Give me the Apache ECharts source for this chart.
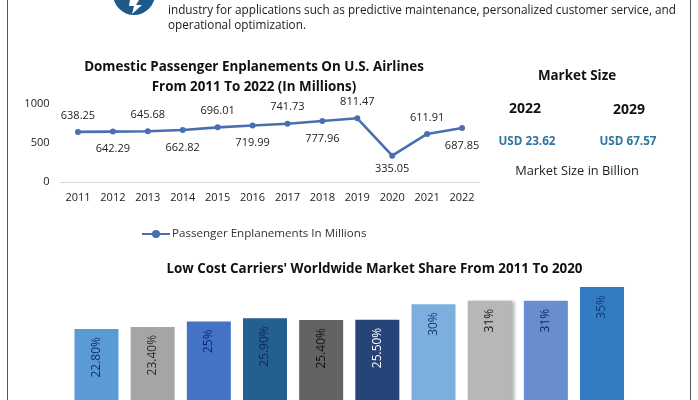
<!DOCTYPE html>
<html><head><meta charset="utf-8">
<style>html,body{margin:0;padding:0;background:#fff}#c{width:698px;height:400px}</style>
<script src="https://cdn.jsdelivr.net/npm/echarts@6/dist/echarts.min.js"></script>
</head><body><div id="c"></div>
<script>
const years = ['2011','2012','2013','2014','2015','2016','2017','2018','2019','2020','2021','2022'];
const enplanements = [638.25,642.29,645.68,662.82,696.01,719.99,741.73,777.96,811.47,335.05,611.91,687.85];
const labelSides = ['top','bottom','top','bottom','top','bottom','top','bottom','top','bottom','top','bottom'];
const shareCats = ['2011','2012','2013','2014','2015','2016','2017','2018','2019','2020'];
const shareVals = [22.8,23.4,25,25.9,25.4,25.5,30,31,31,35];
const shareLabels = ['22.80%','23.40%','25%','25.90%','25.40%','25.50%','30%','31%','31%','35%'];
const shareColors = ['#5b9bd5','#a5a5a5','#4472c4','#255e91','#636363','#264478','#7cafdd','#b7b7b7','#698ed0','#327dc2'];
const shareLabelColors = ['#0f2f66','#2b2b2b','#12246e','#0e2a52','#111111','#ffffff','#143a6e','#1a1a1a','#12246e','#143a7a'];
const FONT = '"Open Sans"';
const chart = echarts.init(document.getElementById('c'));
const txt = (text,x,y,size,weight,color) => ({type:'text',x,y:y+1,style:{text,x:0,y:0,align:'center',verticalAlign:'middle',font:`${weight} ${size}px ${FONT}`,fill:color}});
chart.setOption({
  animation:false,
  backgroundColor:'#fff',
  textStyle:{fontFamily:FONT},
  grid:[
    {left:60.5,width:419,top:103.5,height:78.5,outerBoundsMode:'none'},
    {left:68.4,width:561.7,top:287,height:120.5,outerBoundsMode:'none'}
  ],
  legend:{
    left:136,top:223,itemWidth:28,itemHeight:10,itemGap:0,
    textStyle:{fontFamily:FONT,fontSize:11.6,color:'#333',padding:[0,0,0,-3]},
    data:['Passenger Enplanements In Millions']
  },
  xAxis:[
    {type:'category',gridIndex:0,data:years,axisTick:{show:false},
     axisLine:{lineStyle:{color:'#d9d9d9'}},axisLabel:{color:'#222',fontSize:11,margin:10,interval:0}},
    {type:'category',gridIndex:1,data:shareCats,show:false}
  ],
  yAxis:[
    {type:'value',gridIndex:0,min:0,max:1000,interval:500,axisLine:{show:false},axisTick:{show:false},splitLine:{show:false},
     axisLabel:{color:'#222',fontSize:11,margin:11,formatter:v=>String(v)}},
    {type:'value',gridIndex:1,min:0,max:35,show:false,splitLine:{show:false}}
  ],
  series:[
    {type:'line',name:'Passenger Enplanements In Millions',xAxisIndex:0,yAxisIndex:0,
     data:enplanements.map((v,i)=>({value:v,label:{position:labelSides[i],distance:i===9?5:(labelSides[i]==='top'?8:9)}})),
     symbol:'circle',symbolSize:6,
     lineStyle:{color:'#4a6fb0',width:2.6},itemStyle:{color:'#4a6fb0'},
     label:{show:true,fontSize:11,color:'#222',formatter:p=>p.value.toFixed(2)}},
    {type:'bar',xAxisIndex:1,yAxisIndex:1,barWidth:44,
     data:shareVals.map((v,i)=>({value:v,
       itemStyle:i===7?{color:shareColors[i],shadowColor:'rgba(0,0,0,0.3)',shadowBlur:3,shadowOffsetX:3}:{color:shareColors[i]},
       label:{color:shareLabelColors[i],formatter:shareLabels[i]}})),
     label:{show:true,position:'insideTop',distance:8,rotate:90,align:'right',verticalAlign:'middle',fontSize:12}}
  ],
  graphic:[
    {type:'line',shape:{x1:7.5,y1:0,x2:7.5,y2:400},style:{stroke:'#555',lineWidth:1}},
    {type:'line',shape:{x1:690.5,y1:0,x2:690.5,y2:400},style:{stroke:'#555',lineWidth:1}},
    {type:'circle',shape:{cx:134,cy:-6,r:21},style:{fill:'#1d5a8a'}},
    {type:'polygon',shape:{points:[[130,0],[139,0],[136,5],[142,5],[132,14],[134,6],[129,6]]},style:{fill:'#fff'}},
    {type:'text',x:168,y:10.5,style:{text:'industry for applications such as predictive maintenance, personalized customer service, and',x:0,y:0,align:'left',verticalAlign:'middle',font:`400 11.75px ${FONT}`,fill:'#222'}},
    {type:'text',x:168,y:26,style:{text:'operational optimization.',x:0,y:0,align:'left',verticalAlign:'middle',font:`400 11.75px ${FONT}`,fill:'#222'}},
    txt('Domestic Passenger Enplanements On U.S. Airlines',254,66,13.4,700,'#111'),
    txt('From 2011 To 2022 (In Millions)',254,86,13.4,700,'#111'),
    txt("Low Cost Carriers' Worldwide Market Share From 2011 To 2020",374.5,268,13.4,700,'#111'),
    txt('Market Size',577,75,13.4,700,'#111'),
    txt('2022',525,108,14,700,'#111'),
    txt('2029',629,109,14,700,'#111'),
    txt('USD 23.62',527,141,11.7,700,'#2e75a0'),
    txt('USD 67.57',628,141,11.7,700,'#2e75a0'),
    txt('Market Size in Billion',577,170,12.8,400,'#222')
  ]
});
</script></body></html>
